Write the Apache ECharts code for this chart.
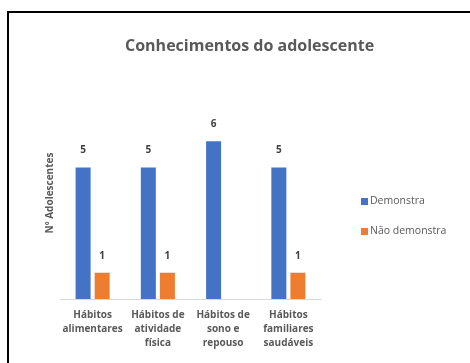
<!DOCTYPE html>
<html>
<head>
<meta charset="utf-8">
<script src="https://cdn.jsdelivr.net/npm/echarts@6/dist/echarts.min.js"></script>
<style>
  html, body { margin: 0; padding: 0; background: #fff; }
  #chart { width: 470px; height: 363px; }
</style>
</head>
<body>
<div id="chart"></div>
<script>
const categories = [
  'Hábitos\nalimentares',
  'Hábitos de\natividade\nfísica',
  'Hábitos de\nsono e\nrepouso',
  'Hábitos\nfamiliares\nsaudáveis'
];
const demonstra = [5, 5, 6, 5];
const naoDemonstra = [1, 1, null, 1];
const seriesNames = ['Demonstra', 'Não demonstra'];

const FONT = '"Open Sans", "Noto Sans", sans-serif';
const GREY = '#595959';

const chart = echarts.init(document.getElementById('chart'), null, { renderer: 'canvas' });

const labelStyle = {
  show: true,
  position: 'top',
  distance: 12,
  fontFamily: FONT,
  fontSize: 10,
  fontWeight: 'bold',
  color: '#404040'
};

chart.setOption({
  animation: false,
  backgroundColor: '#fff',
  title: {
    text: 'Conhecimentos do adolescente',
    left: 120,
    top: 33,
    textStyle: { fontFamily: FONT, fontSize: 16, fontWeight: 'bold', color: GREY }
  },
  legend: {
    orient: 'vertical',
    left: 356,
    top: 191,
    itemWidth: 7,
    itemHeight: 7,
    itemGap: 19,
    icon: 'rect',
    textStyle: { fontFamily: FONT, fontSize: 10.5, color: GREY, padding: [0, 0, 0, -3] },
    data: seriesNames
  },
  grid: { left: 60, right: 149, top: 115, bottom: 64 },
  xAxis: {
    type: 'category',
    data: categories,
    axisLine: { lineStyle: { color: '#d9d9d9', width: 1 } },
    axisTick: { show: false },
    axisLabel: {
      interval: 0,
      margin: 9,
      fontFamily: FONT,
      fontSize: 10,
      fontWeight: 'bold',
      color: GREY,
      lineHeight: 14
    }
  },
  yAxis: {
    type: 'value',
    min: 0,
    max: 7,
    show: false,
    splitLine: { show: false }
  },
  graphic: [
    {
      type: 'text',
      x: 50,
      y: 193,
      rotation: Math.PI / 2,
      style: {
        text: 'Nº Adolescentes',
        fontFamily: FONT,
        fontSize: 10,
        fontWeight: 'bold',
        fill: GREY,
        align: 'center',
        verticalAlign: 'middle'
      }
    },
    {
      type: 'rect',
      shape: { x: 8, y: 12, width: 520, height: 420 },
      style: { fill: null, stroke: '#000', lineWidth: 2 },
      silent: true
    }
  ],
  series: [
    {
      name: seriesNames[0],
      type: 'bar',
      data: demonstra,
      barWidth: 15,
      barGap: '27%',
      itemStyle: { color: '#4472C4' },
      label: labelStyle
    },
    {
      name: seriesNames[1],
      type: 'bar',
      data: naoDemonstra,
      barWidth: 15,
      itemStyle: { color: '#ED7D31' },
      label: labelStyle
    }
  ]
});
</script>
</body>
</html>
